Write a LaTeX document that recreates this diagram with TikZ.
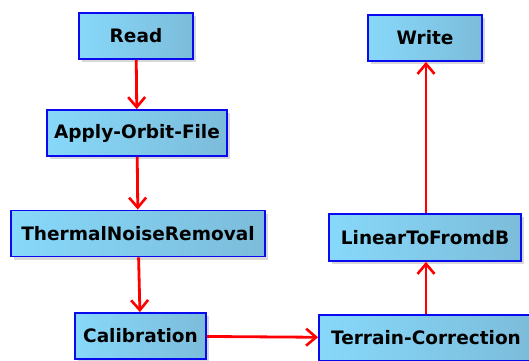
\documentclass[tikz,border=0pt]{standalone}
\usepackage{fontspec}
\setmainfont{DejaVu Sans}
\usetikzlibrary{arrows.meta,shadows}
\definecolor{boxL}{RGB}{135,216,250}
\definecolor{boxR}{RGB}{124,188,218}
\definecolor{boxB}{RGB}{10,10,240}
\tikzset{
  opbox/.style={draw=boxB, line width=1.8pt, left color=boxL, right color=boxR,
    minimum height=46pt, inner sep=0pt, font=\fontsize{18.5}{22}\selectfont\bfseries,
    drop shadow={shadow xshift=3pt, shadow yshift=-3pt, fill=black!30}},
  flow/.style={draw=red, line width=2.8pt, -{Straight Barb[length=10pt,width=17pt,line width=2.6pt]}}
}
\begin{document}
\begin{tikzpicture}[x=1pt,y=-1pt]
\useasboundingbox (0,0) rectangle (529,360);
\begin{scope}
\clip (0,0) rectangle (529,360);
\node[opbox, minimum width=114pt] (read) at (136,36) {Read};
\node[opbox, minimum width=180pt] (apply) at (137,133) {Apply-Orbit-File};
\node[opbox, minimum width=254pt] (thermal) at (138,233.5) {ThermalNoiseRemoval};
\node[opbox, minimum width=131pt] (cal) at (140.5,336) {Calibration};
\node[opbox, minimum width=214pt] (terrain) at (426,338) {Terrain-Correction};
\node[opbox, minimum width=192pt, minimum height=47pt] (lin) at (425,237.5) {LinearToFromdB};
\node[opbox, minimum width=114pt] (write) at (425,38) {Write};
\draw[flow] (read) -- (apply);
\draw[flow] (apply) -- (thermal);
\draw[flow] (thermal) -- (cal);
\draw[flow] (cal) -- (terrain);
\draw[flow] (terrain.north -| 426,0) -- (lin.south -| 426,0);
\draw[flow] (lin.north -| 426,0) -- (write.south -| 426,0);
\end{scope}
\end{tikzpicture}
\end{document}
